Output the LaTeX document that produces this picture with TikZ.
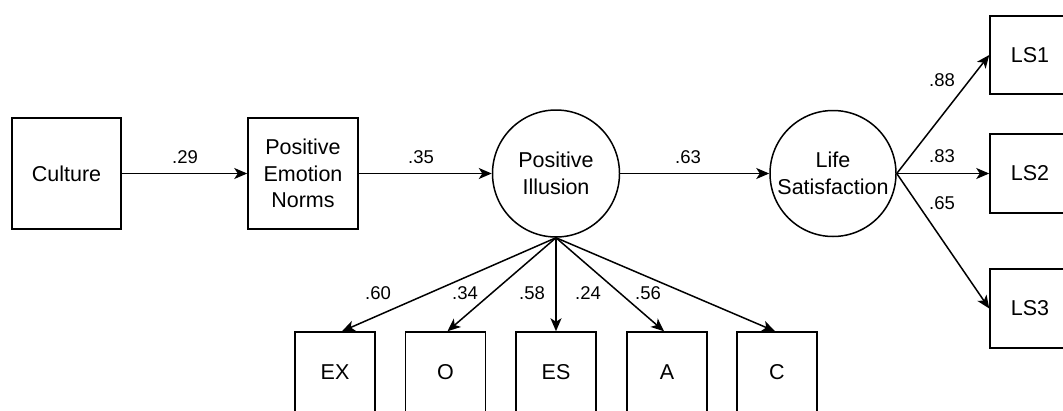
\documentclass[tikz,border=0pt]{standalone}
\usepackage{fontspec}
\setmainfont{Liberation Sans}
\usetikzlibrary{arrows.meta}
\begin{document}
\begin{tikzpicture}[x=1pt,y=-1pt,
  box/.style={draw,line width=1.5pt,rectangle,inner sep=0pt,align=center,
    font=\fontsize{21.5}{26.5}\selectfont},
  latent/.style={draw,line width=1.5pt,circle,inner sep=0pt,minimum size=127pt,align=center,
    font=\fontsize{21.5}{26.5}\selectfont},
  path/.style={line width=1.5pt,-{Stealth[length=13pt,width=11pt,inset=3.5pt]}},
  coef/.style={inner sep=0pt,font=\fontsize{18.5}{21}\selectfont}
]
\clip (0,0) rectangle (1063,410);
\useasboundingbox (0,0) rectangle (1063,410);
\fill[white] (0,0) rectangle (1063,410);

\node[box,minimum width=109pt,minimum height=111pt] (cult) at (66.5,173.5) {Culture};
\node[box,minimum width=110pt,minimum height=111pt] (pen) at (303,173.5) {Positive\\Emotion\\Norms};
\node[latent] (pi) at (556,173.5) {Positive\\Illusion};
\node[latent,minimum size=126pt] (lsat) at (833,173.5) {Life\\Satisfaction};

\node[box,minimum width=80pt,minimum height=78pt] (ls1) at (1030,55) {LS1};
\node[box,minimum width=80pt,minimum height=79pt] (ls2) at (1030,173.5) {LS2};
\node[box,minimum width=80pt,minimum height=79pt] (ls3) at (1030,308.5) {LS3};

\node[box,minimum width=80pt,minimum height=80pt] (ex) at (335,372) {EX};
\node[box,minimum width=80pt,minimum height=80pt] (o) at (445.5,372) {O};
\node[box,minimum width=80pt,minimum height=80pt] (es) at (556,372) {ES};
\node[box,minimum width=80pt,minimum height=80pt] (a) at (667,372) {A};
\node[box,minimum width=80pt,minimum height=80pt] (c) at (777,372) {C};

\draw[path] (cult) -- (pen);
\draw[path] (pen) -- (pi);
\draw[path] (pi) -- (lsat);
\draw[path] (lsat.east) -- (ls1.west);
\draw[path] (lsat.east) -- (ls2.west);
\draw[path] (lsat.east) -- (ls3.west);
\draw[path] (pi.south) -- ([xshift=7pt]ex.north);
\draw[path] (pi.south) -- ([xshift=2pt]o.north);
\draw[path] (pi.south) -- (es.north);
\draw[path] (pi.south) -- ([xshift=-3pt]a.north);
\draw[path] (pi.south) -- ([xshift=-2pt]c.north);

\node[coef] (k29) at (185,157) {.29};
\node[coef] (k35) at (421,157) {.35};
\node[coef] (k63) at (688,157) {.63};
\node[coef] (k88) at (942,80) {.88};
\node[coef] (k83) at (942,156) {.83};
\node[coef] (k65) at (942,203) {.65};
\node[coef] (k60) at (378,293) {.60};
\node[coef] (k34) at (465,293) {.34};
\node[coef] (k58) at (532,293) {.58};
\node[coef] (k24) at (588,293) {.24};
\node[coef] (k56) at (648,293) {.56};
\end{tikzpicture}
\end{document}
